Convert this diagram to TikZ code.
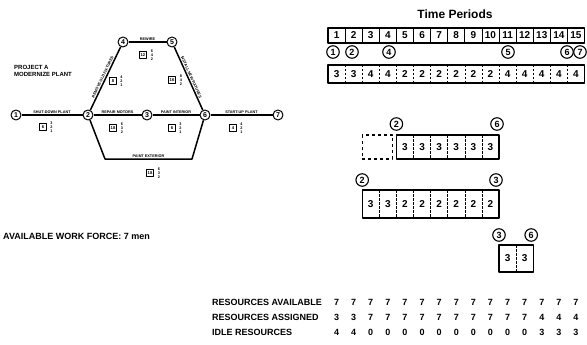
\documentclass[tikz,border=0pt]{standalone}
\usepackage{fontspec}
\setmainfont{Liberation Sans}
\begin{document}
\begin{tikzpicture}[x=1pt,y=-1pt,line join=round,
  ev/.style={circle,draw,line width=1pt,fill=white,inner sep=0pt,minimum size=10pt,font=\bfseries\fontsize{7}{7}\selectfont},
  evr/.style={circle,draw,line width=1.1pt,fill=white,inner sep=0pt,minimum size=12.5pt,font=\bfseries\fontsize{9}{9}\selectfont},
  act/.style={line width=1.5pt},
  elab/.style={font=\bfseries\fontsize{3.8}{4}\selectfont,inner sep=1pt},
  wbox/.style={draw,line width=0.8pt,inner sep=0.6pt,minimum size=7pt,font=\bfseries\fontsize{4.2}{4.2}\selectfont},
  stk/.style={font=\bfseries\fontsize{3.8}{4.3}\selectfont,align=center,inner sep=0pt},
  cellnum/.style={font=\bfseries\fontsize{10}{10}\selectfont,inner sep=0pt},
  tabnum/.style={font=\bfseries\fontsize{9}{9}\selectfont,inner sep=0pt},
  bar/.style={line width=1.3pt},
  div/.style={line width=0.5pt,dash pattern=on 2.5pt off 1.5pt},
  lbl/.style={font=\bfseries\fontsize{9}{9}\selectfont,inner sep=0pt}]
\useasboundingbox (0,0) rectangle (587,345);
% ---------------- network -----------------
\node[ev] (n1) at (16,115) {1};
\node[ev] (n2) at (88,115) {2};
\node[ev] (n3) at (147,115) {3};
\node[ev] (n4) at (123,42) {4};
\node[ev] (n5) at (172,42) {5};
\node[ev] (n6) at (205,115) {6};
\node[ev] (n7) at (278,115) {7};
\coordinate (pe1) at (105,159);
\coordinate (pe2) at (192,159);
\draw[act] (n1) -- node[elab,above] {SHUT-DOWN PLANT} (n2);
\draw[act] (n2) -- node[elab,above,sloped] {REMOVE OLD FIXTURES} (n4);
\draw[act] (n4) -- node[elab,above] {REWIRE} (n5);
\draw[act] (n5) -- node[elab,above,sloped] {INSTALL NEW FIXTURES} (n6);
\draw[act] (n2) -- node[elab,above] {REPAIR MOTORS} (n3);
\draw[act] (n3) -- node[elab,above] {PAINT INTERIOR} (n6);
\draw[act] (n6) -- node[elab,above] {START-UP PLANT} (n7);
\draw[act] (n2) -- (pe1) -- node[elab,above] {PAINT EXTERIOR} (pe2) -- (n6);
% work content boxes
\node[wbox] (w12) at (43,127) {6};   \node[stk] (s12) at (51.5,127) {3\\2\\1};
\node[wbox] (w24) at (113,81) {8};   \node[stk] (s24) at (121.5,81) {4\\2\\1};
\node[wbox] (w45) at (143,55) {12};  \node[stk] (s45) at (152,55) {6\\4\\2};
\node[wbox] (w56) at (172,80) {16};  \node[stk] (s56) at (181,80) {8\\4\\2};
\node[wbox] (w23) at (113,128) {18}; \node[stk] (s23) at (122,128) {6\\3\\2};
\node[wbox] (w36) at (172,128) {6};  \node[stk] (s36) at (180.5,128) {3\\2\\1};
\node[wbox] (w67) at (233,128) {4};  \node[stk] (s67) at (241.5,128) {4\\2\\1};
\node[wbox] (w26) at (150,173) {18}; \node[stk] (s26) at (159,173) {6\\3\\2};
\node[font=\bfseries\fontsize{6}{7.5}\selectfont,align=left,anchor=west,inner sep=0pt] (proj) at (14,71) {PROJECT A\\MODERNIZE PLANT};
\node[lbl,anchor=west] (awf) at (3,236) {AVAILABLE WORK FORCE: 7 men};
% ---------------- time chart -----------------
\def\L{328}\def\W{17.1}
\node[font=\bfseries\fontsize{12}{12}\selectfont] (tp) at (455,14) {Time Periods};
\draw[bar] (\L,28) rectangle ({\L+15*\W},43);
\foreach \i in {1,...,14} \draw[line width=0.8pt] ({\L+\i*\W},28) -- ({\L+\i*\W},43);
\foreach \i in {1,...,15} \node[cellnum] at ({\L+(\i-0.5)*\W},35.5) {\i};
% main chain
\node[evr] (r1) at (333,52) {1};
\node[evr] (r2) at (352,52) {2};
\node[evr] (r4) at (389,52) {4};
\node[evr] (r5) at (508,52) {5};
\node[evr] (r6) at (567,52) {6};
\node[evr] (r7) at (580,52) {7};
\draw[bar] (\L,65) rectangle ({\L+15*\W},83);
\foreach \i in {1,...,14} \draw[div] ({\L+\i*\W},65) -- ({\L+\i*\W},83);
\foreach \v [count=\i] in {3,3,4,4,2,2,2,2,2,2,4,4,4,4,4} \node[cellnum] at ({\L+(\i-0.5)*\W},74) {\v};
% paint exterior
\draw[bar,dashed] ({\L+2*\W},135) rectangle ({\L+4*\W-4},159);
\draw[bar] ({\L+4*\W},135) rectangle ({\L+10*\W},159);
\foreach \i in {5,...,9} \draw[div] ({\L+\i*\W},135) -- ({\L+\i*\W},159);
\foreach \i in {5,...,10} \node[cellnum] at ({\L+(\i-0.5)*\W},147) {3};
\node[evr] (pa) at ({\L+4*\W},124) {2};
\node[evr] (pb) at ({\L+10*\W-2},124) {6};
% repair motors
\node[evr] (ma) at ({\L+2*\W},180) {2};
\node[evr] (mb) at ({\L+10*\W-3},180) {3};
\draw[bar] ({\L+2*\W},190) rectangle ({\L+10*\W},218);
\foreach \i in {3,...,9} \draw[div] ({\L+\i*\W},190) -- ({\L+\i*\W},218);
\foreach \v [count=\i from 3] in {3,3,2,2,2,2,2,2} \node[cellnum] at ({\L+(\i-0.5)*\W},204) {\v};
% paint interior
\node[evr] (ia) at ({\L+10*\W},235) {3};
\node[evr] (ib) at ({\L+12*\W-2},235) {6};
\draw[bar] ({\L+10*\W},245) rectangle ({\L+12*\W},272);
\draw[div] ({\L+11*\W},245) -- ({\L+11*\W},272);
\foreach \i in {11,12} \node[cellnum] at ({\L+(\i-0.5)*\W},258.5) {3};
% bottom table
\node[lbl,anchor=east] (la) at (322,302) {RESOURCES AVAILABLE};
\node[lbl,anchor=west] (lb) at ([yshift=-15pt]la.west) {RESOURCES ASSIGNED};
\node[lbl,anchor=west] (lc) at ([yshift=-30pt]la.west) {IDLE RESOURCES};
\foreach \v [count=\i] in {7,7,7,7,7,7,7,7,7,7,7,7,7,7,7} \node[tabnum] at ({\L+(\i-0.5)*\W},302) {\v};
\foreach \v [count=\i] in {3,3,7,7,7,7,7,7,7,7,7,7,4,4,4} \node[tabnum] at ({\L+(\i-0.5)*\W},317) {\v};
\foreach \v [count=\i] in {4,4,0,0,0,0,0,0,0,0,0,0,3,3,3} \node[tabnum] at ({\L+(\i-0.5)*\W},332) {\v};
\end{tikzpicture}
\end{document}
